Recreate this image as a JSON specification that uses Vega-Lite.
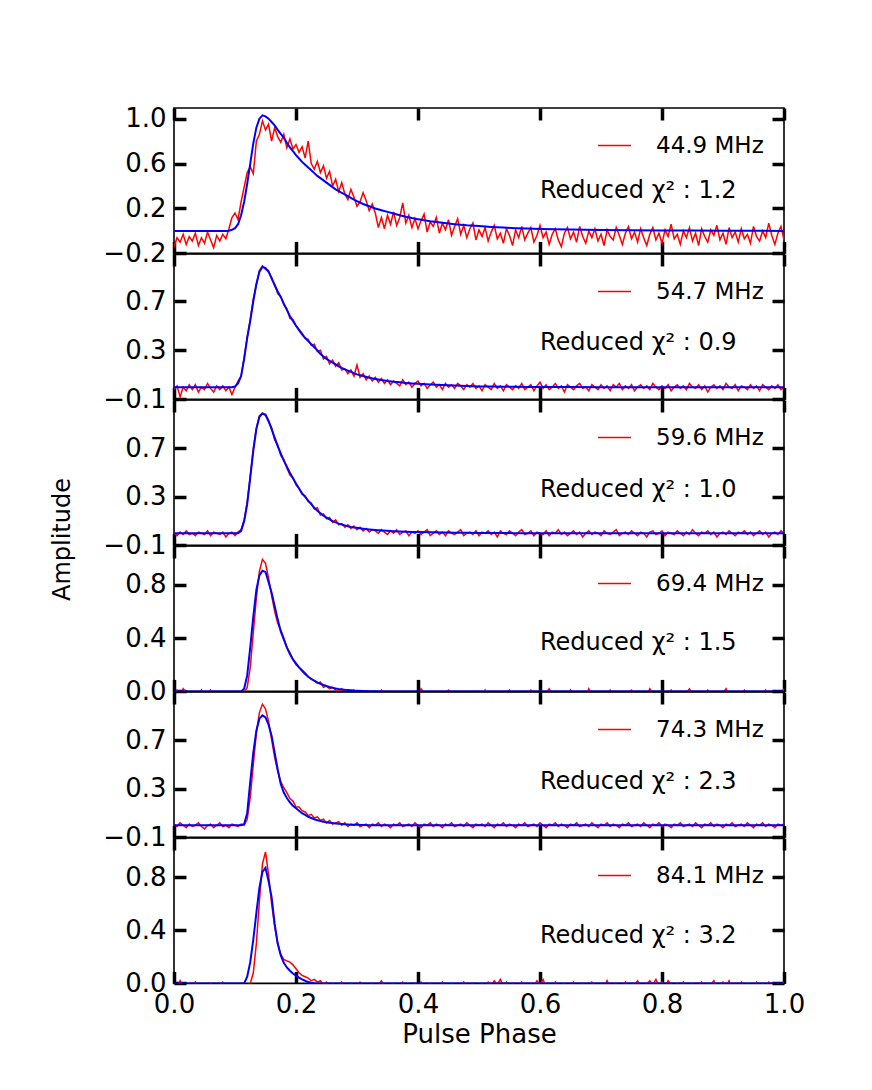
{
  "$schema": "https://vega.github.io/schema/vega-lite/v6.json",
  "padding": {"left": 49, "top": 104, "right": 10, "bottom": 10},
  "bounds": "flush",
  "spacing": 0,
  "config": {
    "font": "DejaVu Sans",
    "view": {"stroke": "#000000", "strokeWidth": 1.6},
    "axis": {"grid": false, "domain": false, "tickSize": -12, "tickWidth": 3.5, "tickColor": "#000000", "labelFontSize": 26, "labelColor": "#000000", "labelPadding": 20, "labelFlush": false, "labelOverlap": false, "labelBound": false, "titleFontSize": 26, "titleFontWeight": "normal", "titleColor": "#000000", "zindex": 1},
    "legend": {"orient": "top-right", "offset": 20, "padding": 0, "symbolType": "stroke", "symbolSize": 1089, "symbolStrokeWidth": 1.5, "labelFontSize": 23, "labelColor": "#000000", "labelOffset": 24},
    "text": {"fontSize": 24, "color": "#000000"}
  },
  "datasets": {
    "red": [
      {"x":0,"a":-0.14,"b":-0.02,"c":0,"d":-0.02,"e":0.01,"f":-0.01},
      {"x":0.005,"a":-0.06,"b":0.01,"c":-0.02,"d":0.01,"e":-0.01,"f":-0.03},
      {"x":0.01,"a":-0.1,"b":-0.08,"c":0.01,"d":-0.03,"e":0.02,"f":0.02},
      {"x":0.015,"a":-0.03,"b":0,"c":-0.01,"d":0.02,"e":0,"f":-0.02},
      {"x":0.02,"a":-0.12,"b":-0.03,"c":0.02,"d":-0.01,"e":-0.02,"f":-0.04},
      {"x":0.025,"a":-0.05,"b":0.02,"c":-0.01,"d":-0.04,"e":0.01,"f":0},
      {"x":0.03,"a":-0.09,"b":-0.02,"c":0,"d":0,"e":-0.01,"f":-0.02},
      {"x":0.035,"a":-0.02,"b":0.02,"c":-0.02,"d":-0.02,"e":0,"f":0.01},
      {"x":0.04,"a":-0.13,"b":-0.04,"c":0.01,"d":-0.05,"e":0.02,"f":-0.03},
      {"x":0.045,"a":-0.06,"b":0,"c":0,"d":0.01,"e":-0.01,"f":-0.05},
      {"x":0.05,"a":-0.11,"b":-0.02,"c":-0.01,"d":-0.03,"e":-0.03,"f":-0.01},
      {"x":0.055,"a":-0.01,"b":0.03,"c":0.02,"d":-0.01,"e":0,"f":-0.03},
      {"x":0.06,"a":-0.08,"b":-0.01,"c":-0.02,"d":0.01,"e":0.01,"f":0},
      {"x":0.065,"a":-0.15,"b":-0.04,"c":0.01,"d":-0.04,"e":-0.02,"f":-0.02},
      {"x":0.07,"a":-0.04,"b":0.01,"c":0,"d":-0.02,"e":0,"f":-0.04},
      {"x":0.075,"a":-0.09,"b":-0.02,"c":-0.01,"d":0,"e":0.02,"f":-0.01},
      {"x":0.08,"a":-0.03,"b":0.01,"c":0.01,"d":-0.03,"e":-0.01,"f":0.01},
      {"x":0.085,"a":-0.07,"b":-0.03,"c":-0.03,"d":-0.05,"e":0,"f":-0.03},
      {"x":0.09,"a":0.02,"b":0,"c":0,"d":-0.01,"e":-0.02,"f":-0.02},
      {"x":0.095,"a":0.12,"b":-0.06,"c":0.01,"d":-0.03,"e":0.01,"f":-0.04},
      {"x":0.1,"a":0.16,"b":0,"c":-0.02,"d":-0.02,"e":0,"f":-0.01},
      {"x":0.105,"a":0.1,"b":0.05,"c":0.01,"d":-0.04,"e":-0.01,"f":-0.03},
      {"x":0.11,"a":0.26,"b":0.09,"c":0.03,"d":-0.02,"e":0.01,"f":-0.02},
      {"x":0.115,"a":0.39,"b":0.24,"c":0.11,"d":-0.01,"e":0,"f":-0.04},
      {"x":0.12,"a":0.52,"b":0.41,"c":0.26,"d":0.03,"e":0.05,"f":-0.01},
      {"x":0.125,"a":0.57,"b":0.55,"c":0.47,"d":0.18,"e":0.23,"f":0},
      {"x":0.13,"a":0.51,"b":0.72,"c":0.7,"d":0.44,"e":0.5,"f":0.08},
      {"x":0.135,"a":0.8,"b":0.83,"c":0.87,"d":0.7,"e":0.76,"f":0.3},
      {"x":0.14,"a":0.86,"b":0.95,"c":0.97,"d":0.9,"e":0.93,"f":0.62},
      {"x":0.145,"a":0.98,"b":0.99,"c":0.99,"d":0.99,"e":1,"f":0.9},
      {"x":0.15,"a":0.9,"b":0.96,"c":0.97,"d":0.96,"e":0.96,"f":0.99},
      {"x":0.155,"a":0.95,"b":0.95,"c":0.92,"d":0.85,"e":0.86,"f":0.82},
      {"x":0.16,"a":0.8,"b":0.88,"c":0.87,"d":0.72,"e":0.71,"f":0.6},
      {"x":0.165,"a":0.92,"b":0.84,"c":0.77,"d":0.6,"e":0.56,"f":0.43},
      {"x":0.17,"a":0.84,"b":0.76,"c":0.73,"d":0.51,"e":0.45,"f":0.3},
      {"x":0.175,"a":0.79,"b":0.74,"c":0.64,"d":0.46,"e":0.36,"f":0.22},
      {"x":0.18,"a":0.86,"b":0.67,"c":0.61,"d":0.4,"e":0.31,"f":0.18},
      {"x":0.185,"a":0.74,"b":0.64,"c":0.54,"d":0.33,"e":0.27,"f":0.17},
      {"x":0.19,"a":0.82,"b":0.56,"c":0.48,"d":0.29,"e":0.22,"f":0.16},
      {"x":0.195,"a":0.73,"b":0.55,"c":0.46,"d":0.24,"e":0.2,"f":0.14},
      {"x":0.2,"a":0.77,"b":0.5,"c":0.4,"d":0.2,"e":0.15,"f":0.11},
      {"x":0.205,"a":0.7,"b":0.47,"c":0.37,"d":0.18,"e":0.15,"f":0.08},
      {"x":0.21,"a":0.75,"b":0.44,"c":0.32,"d":0.16,"e":0.12,"f":0.06},
      {"x":0.215,"a":0.65,"b":0.4,"c":0.31,"d":0.14,"e":0.11,"f":0.05},
      {"x":0.22,"a":0.8,"b":0.39,"c":0.26,"d":0.11,"e":0.08,"f":0.04},
      {"x":0.225,"a":0.6,"b":0.34,"c":0.25,"d":0.09,"e":0.09,"f":0.02},
      {"x":0.23,"a":0.55,"b":0.35,"c":0.2,"d":0.08,"e":0.06,"f":0.03},
      {"x":0.235,"a":0.62,"b":0.29,"c":0.21,"d":0.06,"e":0.07,"f":0.01},
      {"x":0.24,"a":0.52,"b":0.3,"c":0.15,"d":0.07,"e":0.04,"f":0.02},
      {"x":0.245,"a":0.58,"b":0.23,"c":0.16,"d":0.03,"e":0.05,"f":-0.01},
      {"x":0.25,"a":0.47,"b":0.25,"c":0.12,"d":0.04,"e":0.02,"f":0.01},
      {"x":0.255,"a":0.53,"b":0.19,"c":0.13,"d":0.02,"e":0.04,"f":-0.02},
      {"x":0.26,"a":0.4,"b":0.22,"c":0.09,"d":0.03,"e":0.01,"f":0},
      {"x":0.265,"a":0.46,"b":0.17,"c":0.11,"d":0.01,"e":0.02,"f":-0.03},
      {"x":0.27,"a":0.35,"b":0.2,"c":0.07,"d":0,"e":0.03,"f":-0.01},
      {"x":0.275,"a":0.43,"b":0.14,"c":0.08,"d":0.02,"e":0,"f":0.01},
      {"x":0.28,"a":0.33,"b":0.15,"c":0.05,"d":-0.01,"e":0.02,"f":-0.02},
      {"x":0.285,"a":0.28,"b":0.11,"c":0.07,"d":0,"e":-0.01,"f":-0.04},
      {"x":0.29,"a":0.37,"b":0.14,"c":0.04,"d":-0.02,"e":0.01,"f":0},
      {"x":0.295,"a":0.3,"b":0.09,"c":0.06,"d":0.01,"e":0,"f":-0.02},
      {"x":0.3,"a":0.22,"b":0.18,"c":0.03,"d":-0.03,"e":0.02,"f":-0.03},
      {"x":0.305,"a":0.26,"b":0.08,"c":0.05,"d":-0.01,"e":-0.01,"f":0.01},
      {"x":0.31,"a":0.34,"b":0.11,"c":0.02,"d":-0.04,"e":0,"f":-0.01},
      {"x":0.315,"a":0.27,"b":0.06,"c":0.04,"d":0,"e":0.01,"f":-0.04},
      {"x":0.32,"a":0.18,"b":0.09,"c":0.01,"d":-0.02,"e":-0.02,"f":-0.02},
      {"x":0.325,"a":0.24,"b":0.05,"c":0.03,"d":-0.05,"e":0.01,"f":0},
      {"x":0.33,"a":0.16,"b":0.08,"c":0.02,"d":-0.01,"e":0,"f":-0.03},
      {"x":0.335,"a":0.03,"b":0.04,"c":0,"d":-0.03,"e":0.02,"f":-0.01},
      {"x":0.34,"a":0.12,"b":0.07,"c":0.03,"d":0.01,"e":-0.01,"f":0.02},
      {"x":0.345,"a":0.02,"b":0.03,"c":0.01,"d":-0.02,"e":0.01,"f":-0.02},
      {"x":0.35,"a":0.14,"b":0.06,"c":-0.01,"d":-0.04,"e":0,"f":-0.05},
      {"x":0.355,"a":0.06,"b":0.02,"c":0.02,"d":-0.01,"e":-0.02,"f":-0.01},
      {"x":0.36,"a":0.17,"b":0.05,"c":0,"d":-0.03,"e":0.01,"f":0},
      {"x":0.365,"a":0.05,"b":0.03,"c":0.03,"d":0,"e":0,"f":-0.03},
      {"x":0.37,"a":0.12,"b":0.01,"c":-0.01,"d":-0.02,"e":0.02,"f":-0.02},
      {"x":0.375,"a":0.25,"b":0.06,"c":0.01,"d":-0.05,"e":-0.01,"f":0.01},
      {"x":0.38,"a":0.07,"b":0.02,"c":0.02,"d":-0.01,"e":0,"f":-0.04},
      {"x":0.385,"a":0.14,"b":0.04,"c":-0.02,"d":-0.03,"e":0.01,"f":-0.01},
      {"x":0.39,"a":0.03,"b":0,"c":0.01,"d":-0.02,"e":-0.01,"f":-0.03},
      {"x":0.395,"a":0.11,"b":0.03,"c":0,"d":0,"e":0.02,"f":0},
      {"x":0.4,"a":0.02,"b":0.05,"c":0.02,"d":-0.04,"e":0,"f":-0.02},
      {"x":0.405,"a":0.09,"b":0.01,"c":-0.01,"d":0.02,"e":-0.02,"f":0.01},
      {"x":0.41,"a":0.15,"b":0.03,"c":0.01,"d":-0.01,"e":0.01,"f":-0.04},
      {"x":0.415,"a":-0.01,"b":-0.01,"c":0.03,"d":-0.03,"e":0,"f":-0.02},
      {"x":0.42,"a":0.08,"b":0.02,"c":-0.02,"d":-0.02,"e":0.02,"f":0},
      {"x":0.425,"a":0.04,"b":0.04,"c":0,"d":-0.05,"e":-0.01,"f":-0.03},
      {"x":0.43,"a":0.12,"b":0,"c":0.02,"d":0,"e":0.01,"f":-0.01},
      {"x":0.435,"a":-0.02,"b":0.02,"c":-0.01,"d":-0.02,"e":0,"f":-0.05},
      {"x":0.44,"a":0.07,"b":-0.02,"c":0.01,"d":-0.04,"e":-0.02,"f":0.01},
      {"x":0.445,"a":0.01,"b":0.03,"c":-0.02,"d":-0.01,"e":0.01,"f":-0.02},
      {"x":0.45,"a":0.1,"b":0,"c":0.02,"d":0.01,"e":0,"f":-0.03},
      {"x":0.455,"a":-0.04,"b":0.02,"c":0,"d":-0.03,"e":0.02,"f":0},
      {"x":0.46,"a":0.04,"b":-0.01,"c":-0.01,"d":-0.02,"e":-0.01,"f":-0.01},
      {"x":0.465,"a":0.11,"b":0.03,"c":0.01,"d":-0.05,"e":0,"f":-0.04},
      {"x":0.47,"a":-0.03,"b":0.01,"c":0.03,"d":-0.01,"e":0.01,"f":-0.02},
      {"x":0.475,"a":0.05,"b":-0.02,"c":-0.02,"d":-0.03,"e":-0.01,"f":0.01},
      {"x":0.48,"a":-0.06,"b":0.02,"c":0,"d":0,"e":0.02,"f":-0.03},
      {"x":0.485,"a":0.02,"b":0,"c":0.01,"d":-0.02,"e":0,"f":-0.01},
      {"x":0.49,"a":0.07,"b":0.03,"c":-0.01,"d":-0.04,"e":-0.02,"f":0},
      {"x":0.495,"a":-0.08,"b":-0.01,"c":0.02,"d":-0.01,"e":0.01,"f":-0.04},
      {"x":0.5,"a":0.01,"b":0.01,"c":-0.02,"d":-0.03,"e":0,"f":-0.02},
      {"x":0.505,"a":-0.05,"b":-0.03,"c":0.01,"d":-0.02,"e":0.01,"f":0},
      {"x":0.51,"a":0.03,"b":0.02,"c":0,"d":0.01,"e":-0.01,"f":-0.03},
      {"x":0.515,"a":-0.09,"b":0,"c":0.02,"d":-0.04,"e":0.02,"f":0.01},
      {"x":0.52,"a":-0.01,"b":-0.02,"c":-0.01,"d":-0.02,"e":0,"f":-0.02},
      {"x":0.525,"a":0.05,"b":0.03,"c":0.01,"d":-0.01,"e":-0.02,"f":0.02},
      {"x":0.53,"a":-0.07,"b":-0.01,"c":-0.03,"d":-0.03,"e":0.01,"f":-0.01},
      {"x":0.535,"a":-0.02,"b":0.01,"c":0.02,"d":0,"e":0,"f":0.03},
      {"x":0.54,"a":-0.11,"b":-0.03,"c":0,"d":-0.05,"e":0.02,"f":-0.02},
      {"x":0.545,"a":0.02,"b":0.02,"c":-0.01,"d":-0.02,"e":-0.01,"f":0.01},
      {"x":0.55,"a":-0.04,"b":0,"c":0.02,"d":0.01,"e":0.01,"f":-0.04},
      {"x":0.555,"a":-0.13,"b":-0.02,"c":0,"d":-0.03,"e":0,"f":0},
      {"x":0.56,"a":0.01,"b":0.01,"c":-0.02,"d":-0.01,"e":-0.02,"f":-0.02},
      {"x":0.565,"a":-0.06,"b":-0.01,"c":0.01,"d":-0.04,"e":0.01,"f":-0.03},
      {"x":0.57,"a":0.04,"b":0.03,"c":0.03,"d":0,"e":0,"f":0.01},
      {"x":0.575,"a":-0.08,"b":-0.02,"c":-0.01,"d":-0.02,"e":0.02,"f":-0.01},
      {"x":0.58,"a":-0.02,"b":0,"c":0,"d":-0.03,"e":-0.01,"f":-0.04},
      {"x":0.585,"a":0.03,"b":0.02,"c":0.02,"d":0.01,"e":0,"f":0},
      {"x":0.59,"a":-0.1,"b":-0.03,"c":-0.02,"d":-0.02,"e":0.01,"f":-0.02},
      {"x":0.595,"a":-0.04,"b":0.01,"c":0.01,"d":-0.04,"e":-0.01,"f":0.02},
      {"x":0.6,"a":0.05,"b":0.04,"c":0,"d":0,"e":0.02,"f":-0.01},
      {"x":0.605,"a":-0.06,"b":-0.01,"c":-0.01,"d":-0.03,"e":0,"f":0.03},
      {"x":0.61,"a":-0.01,"b":0.02,"c":0.02,"d":-0.01,"e":-0.02,"f":-0.03},
      {"x":0.615,"a":-0.12,"b":-0.02,"c":-0.02,"d":0.02,"e":0.01,"f":0},
      {"x":0.62,"a":-0.03,"b":0,"c":0.01,"d":-0.02,"e":0,"f":-0.02},
      {"x":0.625,"a":0.02,"b":0.03,"c":0,"d":-0.04,"e":0.02,"f":0.01},
      {"x":0.63,"a":-0.08,"b":-0.01,"c":0.03,"d":-0.01,"e":-0.01,"f":-0.04},
      {"x":0.635,"a":-0.14,"b":0.01,"c":-0.01,"d":0,"e":0.01,"f":-0.01},
      {"x":0.64,"a":-0.02,"b":-0.04,"c":0.01,"d":-0.03,"e":0,"f":0},
      {"x":0.645,"a":0.03,"b":0.02,"c":-0.02,"d":-0.05,"e":-0.02,"f":-0.03},
      {"x":0.65,"a":-0.07,"b":0,"c":0,"d":0.01,"e":0.01,"f":-0.02},
      {"x":0.655,"a":-0.01,"b":-0.02,"c":0.02,"d":-0.02,"e":0,"f":0.01},
      {"x":0.66,"a":-0.1,"b":0.01,"c":-0.01,"d":-0.03,"e":0.02,"f":-0.04},
      {"x":0.665,"a":0.04,"b":0.03,"c":0.01,"d":0,"e":-0.01,"f":-0.01},
      {"x":0.67,"a":-0.05,"b":-0.01,"c":-0.03,"d":-0.01,"e":0,"f":0},
      {"x":0.675,"a":-0.11,"b":0,"c":0,"d":-0.04,"e":0.01,"f":-0.02},
      {"x":0.68,"a":0,"b":-0.03,"c":0.02,"d":0.02,"e":-0.01,"f":-0.03},
      {"x":0.685,"a":-0.06,"b":0.02,"c":-0.01,"d":-0.02,"e":0.02,"f":0.01},
      {"x":0.69,"a":0.02,"b":0,"c":0.01,"d":-0.03,"e":0,"f":-0.01},
      {"x":0.695,"a":-0.09,"b":-0.02,"c":0,"d":-0.01,"e":-0.02,"f":-0.04},
      {"x":0.7,"a":-0.03,"b":0.02,"c":-0.02,"d":0,"e":0.01,"f":0},
      {"x":0.705,"a":-0.13,"b":-0.01,"c":0.02,"d":-0.04,"e":0,"f":-0.02},
      {"x":0.71,"a":0.01,"b":0.01,"c":0,"d":-0.02,"e":0.02,"f":0.02},
      {"x":0.715,"a":-0.05,"b":-0.03,"c":-0.01,"d":0.01,"e":-0.01,"f":-0.03},
      {"x":0.72,"a":-0.08,"b":0.02,"c":0.01,"d":-0.03,"e":0.01,"f":-0.01},
      {"x":0.725,"a":0.03,"b":0,"c":0.03,"d":-0.01,"e":0,"f":0},
      {"x":0.73,"a":-0.04,"b":0.03,"c":-0.02,"d":-0.05,"e":-0.02,"f":-0.04},
      {"x":0.735,"a":-0.12,"b":-0.02,"c":0,"d":0,"e":0.01,"f":-0.02},
      {"x":0.74,"a":-0.02,"b":0.01,"c":0.01,"d":-0.02,"e":0,"f":0.01},
      {"x":0.745,"a":0.04,"b":-0.01,"c":-0.01,"d":-0.03,"e":0.02,"f":-0.03},
      {"x":0.75,"a":-0.07,"b":0.02,"c":0.02,"d":0.01,"e":-0.01,"f":0},
      {"x":0.755,"a":-0.01,"b":-0.03,"c":0,"d":-0.01,"e":0,"f":-0.01},
      {"x":0.76,"a":-0.1,"b":0,"c":-0.02,"d":-0.04,"e":0.01,"f":0.02},
      {"x":0.765,"a":0.02,"b":0.02,"c":0.01,"d":-0.02,"e":-0.01,"f":-0.02},
      {"x":0.77,"a":-0.06,"b":-0.01,"c":0,"d":0,"e":0.02,"f":-0.04},
      {"x":0.775,"a":-0.13,"b":0.01,"c":-0.03,"d":-0.03,"e":0,"f":0},
      {"x":0.78,"a":-0.03,"b":-0.02,"c":0.01,"d":0.02,"e":-0.02,"f":0.02},
      {"x":0.785,"a":0.03,"b":0.03,"c":0.02,"d":-0.01,"e":0.01,"f":-0.01},
      {"x":0.79,"a":-0.08,"b":0,"c":-0.01,"d":-0.04,"e":0,"f":0.03},
      {"x":0.795,"a":-0.02,"b":-0.02,"c":0,"d":-0.02,"e":0.02,"f":-0.02},
      {"x":0.8,"a":-0.11,"b":0.01,"c":0.02,"d":0,"e":-0.01,"f":0.01},
      {"x":0.805,"a":0.01,"b":-0.01,"c":-0.02,"d":-0.03,"e":0.01,"f":-0.03},
      {"x":0.81,"a":-0.05,"b":0.02,"c":0.01,"d":-0.01,"e":0,"f":0.02},
      {"x":0.815,"a":0.06,"b":-0.03,"c":0,"d":0.01,"e":-0.02,"f":-0.01},
      {"x":0.82,"a":-0.07,"b":0,"c":-0.01,"d":-0.05,"e":0.01,"f":-0.04},
      {"x":0.825,"a":-0.03,"b":0.02,"c":0.02,"d":-0.02,"e":0,"f":0},
      {"x":0.83,"a":-0.12,"b":-0.01,"c":0,"d":0,"e":0.02,"f":-0.02},
      {"x":0.835,"a":0,"b":0.01,"c":-0.02,"d":-0.03,"e":-0.01,"f":0.01},
      {"x":0.84,"a":-0.06,"b":-0.02,"c":0.01,"d":-0.01,"e":0,"f":-0.03},
      {"x":0.845,"a":0.03,"b":0.03,"c":-0.01,"d":0.02,"e":0.01,"f":-0.01},
      {"x":0.85,"a":-0.09,"b":0,"c":0.03,"d":-0.02,"e":-0.01,"f":0},
      {"x":0.855,"a":-0.02,"b":-0.01,"c":0,"d":-0.04,"e":0.02,"f":-0.04},
      {"x":0.86,"a":-0.13,"b":0.02,"c":-0.02,"d":0,"e":0,"f":-0.02},
      {"x":0.865,"a":0.02,"b":-0.02,"c":0.01,"d":-0.01,"e":-0.02,"f":0.01},
      {"x":0.87,"a":-0.05,"b":0.01,"c":0,"d":-0.03,"e":0.01,"f":-0.03},
      {"x":0.875,"a":-0.1,"b":-0.04,"c":0.02,"d":0.01,"e":0,"f":0},
      {"x":0.88,"a":0.01,"b":0,"c":-0.01,"d":-0.02,"e":0.02,"f":-0.01},
      {"x":0.885,"a":-0.04,"b":0.02,"c":0.01,"d":-0.04,"e":-0.01,"f":0.02},
      {"x":0.89,"a":0.05,"b":-0.01,"c":-0.03,"d":0,"e":0.01,"f":-0.03},
      {"x":0.895,"a":-0.08,"b":0.01,"c":0,"d":-0.02,"e":0,"f":-0.01},
      {"x":0.9,"a":-0.02,"b":-0.02,"c":0.01,"d":-0.01,"e":-0.02,"f":0.01},
      {"x":0.905,"a":-0.12,"b":0.03,"c":-0.01,"d":0.02,"e":0.01,"f":-0.02},
      {"x":0.91,"a":0.03,"b":0,"c":0.02,"d":-0.03,"e":0,"f":0.02},
      {"x":0.915,"a":-0.06,"b":-0.01,"c":0,"d":-0.01,"e":0.02,"f":-0.04},
      {"x":0.92,"a":-0.01,"b":0.02,"c":-0.02,"d":-0.04,"e":-0.01,"f":0},
      {"x":0.925,"a":-0.1,"b":-0.03,"c":0.01,"d":0,"e":0,"f":-0.02},
      {"x":0.93,"a":0.02,"b":0.01,"c":0,"d":-0.02,"e":0.01,"f":0.01},
      {"x":0.935,"a":-0.07,"b":0,"c":0.02,"d":0.01,"e":-0.01,"f":-0.03},
      {"x":0.94,"a":-0.03,"b":-0.02,"c":-0.01,"d":-0.03,"e":0.02,"f":0},
      {"x":0.945,"a":-0.11,"b":0.02,"c":0.01,"d":-0.05,"e":0,"f":-0.01},
      {"x":0.95,"a":0.04,"b":-0.01,"c":-0.02,"d":-0.01,"e":-0.02,"f":-0.04},
      {"x":0.955,"a":-0.05,"b":0.01,"c":0,"d":0,"e":0.01,"f":0.01},
      {"x":0.96,"a":-0.09,"b":-0.03,"c":0.02,"d":-0.02,"e":0,"f":-0.02},
      {"x":0.965,"a":0,"b":0.02,"c":-0.01,"d":-0.04,"e":0.02,"f":0},
      {"x":0.97,"a":-0.06,"b":0,"c":0.01,"d":0.01,"e":-0.01,"f":-0.03},
      {"x":0.975,"a":0.07,"b":-0.02,"c":-0.03,"d":-0.02,"e":0.01,"f":0.01},
      {"x":0.98,"a":-0.04,"b":0.01,"c":0,"d":-0.01,"e":0,"f":-0.01},
      {"x":0.985,"a":-0.12,"b":-0.01,"c":0.01,"d":-0.03,"e":-0.02,"f":-0.03},
      {"x":0.99,"a":-0.02,"b":0.02,"c":-0.01,"d":0,"e":0.01,"f":0},
      {"x":0.995,"a":0.04,"b":-0.02,"c":0.02,"d":-0.02,"e":0,"f":-0.02},
      {"x":1,"a":-0.08,"b":0,"c":0,"d":0.02,"e":0.01,"f":0.01}
    ],
    "blue": [
      {"x":0,"a":0,"b":0,"c":0,"d":0,"e":0,"f":0},
      {"x":0.05,"a":0,"b":0,"c":0,"d":0,"e":0,"f":0},
      {"x":0.08,"a":0,"b":0,"c":0,"d":0,"e":0,"f":0},
      {"x":0.085,"a":0,"b":0,"c":0,"d":0,"e":0,"f":0},
      {"x":0.09,"a":0.002,"b":0,"c":0,"d":0,"e":0,"f":0},
      {"x":0.095,"a":0.01,"b":0,"c":0,"d":0,"e":0,"f":0},
      {"x":0.1,"a":0.025,"b":0.005,"c":0,"d":0,"e":0,"f":0},
      {"x":0.105,"a":0.06,"b":0.03,"c":0,"d":0,"e":0,"f":0},
      {"x":0.11,"a":0.14,"b":0.09,"c":0.02,"d":0,"e":0,"f":0},
      {"x":0.115,"a":0.26,"b":0.23,"c":0.1,"d":0.02,"e":0.01,"f":0},
      {"x":0.12,"a":0.42,"b":0.4,"c":0.24,"d":0.12,"e":0.1,"f":0.05},
      {"x":0.125,"a":0.6,"b":0.54,"c":0.46,"d":0.33,"e":0.36,"f":0.16},
      {"x":0.13,"a":0.78,"b":0.7,"c":0.68,"d":0.56,"e":0.6,"f":0.33},
      {"x":0.135,"a":0.92,"b":0.84,"c":0.86,"d":0.76,"e":0.78,"f":0.53},
      {"x":0.14,"a":1,"b":0.94,"c":0.96,"d":0.87,"e":0.88,"f":0.72},
      {"x":0.145,"a":1.03,"b":0.98,"c":0.99,"d":0.905,"e":0.907,"f":0.84},
      {"x":0.15,"a":1.02,"b":0.97,"c":0.98,"d":0.895,"e":0.89,"f":0.87},
      {"x":0.155,"a":1,"b":0.94,"c":0.93,"d":0.82,"e":0.83,"f":0.77},
      {"x":0.16,"a":0.97,"b":0.89,"c":0.86,"d":0.74,"e":0.74,"f":0.65},
      {"x":0.165,"a":0.94,"b":0.83,"c":0.79,"d":0.64,"e":0.6,"f":0.45},
      {"x":0.17,"a":0.9,"b":0.78,"c":0.72,"d":0.54,"e":0.46,"f":0.3},
      {"x":0.175,"a":0.865,"b":0.735,"c":0.66,"d":0.45,"e":0.34,"f":0.21},
      {"x":0.18,"a":0.83,"b":0.68,"c":0.6,"d":0.39,"e":0.27,"f":0.156},
      {"x":0.185,"a":0.785,"b":0.63,"c":0.55,"d":0.33,"e":0.225,"f":0.12},
      {"x":0.19,"a":0.745,"b":0.58,"c":0.5,"d":0.28,"e":0.19,"f":0.095},
      {"x":0.195,"a":0.71,"b":0.54,"c":0.455,"d":0.24,"e":0.16,"f":0.075},
      {"x":0.2,"a":0.675,"b":0.5,"c":0.41,"d":0.21,"e":0.14,"f":0.058},
      {"x":0.205,"a":0.645,"b":0.465,"c":0.37,"d":0.18,"e":0.12,"f":0.043},
      {"x":0.21,"a":0.615,"b":0.43,"c":0.33,"d":0.155,"e":0.1,"f":0.03},
      {"x":0.215,"a":0.59,"b":0.4,"c":0.3,"d":0.13,"e":0.085,"f":0.02},
      {"x":0.22,"a":0.565,"b":0.375,"c":0.27,"d":0.11,"e":0.07,"f":0.01},
      {"x":0.225,"a":0.54,"b":0.35,"c":0.24,"d":0.095,"e":0.06,"f":0.005},
      {"x":0.23,"a":0.515,"b":0.325,"c":0.21,"d":0.08,"e":0.05,"f":0.002},
      {"x":0.235,"a":0.49,"b":0.3,"c":0.185,"d":0.068,"e":0.042,"f":0},
      {"x":0.24,"a":0.47,"b":0.27,"c":0.165,"d":0.057,"e":0.035,"f":0},
      {"x":0.245,"a":0.45,"b":0.25,"c":0.145,"d":0.048,"e":0.03,"f":0},
      {"x":0.25,"a":0.43,"b":0.23,"c":0.13,"d":0.04,"e":0.025,"f":0},
      {"x":0.255,"a":0.41,"b":0.215,"c":0.115,"d":0.033,"e":0.021,"f":0},
      {"x":0.26,"a":0.39,"b":0.2,"c":0.1,"d":0.027,"e":0.018,"f":0},
      {"x":0.265,"a":0.37,"b":0.185,"c":0.09,"d":0.022,"e":0.015,"f":0},
      {"x":0.27,"a":0.355,"b":0.17,"c":0.08,"d":0.018,"e":0.012,"f":0},
      {"x":0.275,"a":0.34,"b":0.157,"c":0.072,"d":0.015,"e":0.01,"f":0},
      {"x":0.28,"a":0.325,"b":0.145,"c":0.065,"d":0.012,"e":0.008,"f":0},
      {"x":0.285,"a":0.31,"b":0.135,"c":0.058,"d":0.01,"e":0.007,"f":0},
      {"x":0.29,"a":0.295,"b":0.125,"c":0.052,"d":0.008,"e":0.005,"f":0},
      {"x":0.295,"a":0.28,"b":0.114,"c":0.048,"d":0.006,"e":0.004,"f":0},
      {"x":0.3,"a":0.265,"b":0.104,"c":0.045,"d":0.005,"e":0.004,"f":0},
      {"x":0.31,"a":0.24,"b":0.09,"c":0.038,"d":0.003,"e":0.002,"f":0},
      {"x":0.32,"a":0.22,"b":0.077,"c":0.032,"d":0.002,"e":0.001,"f":0},
      {"x":0.33,"a":0.2,"b":0.067,"c":0.027,"d":0.001,"e":0,"f":0},
      {"x":0.34,"a":0.185,"b":0.058,"c":0.023,"d":0,"e":0,"f":0},
      {"x":0.35,"a":0.17,"b":0.05,"c":0.02,"d":0,"e":0,"f":0},
      {"x":0.36,"a":0.155,"b":0.044,"c":0.017,"d":0,"e":0,"f":0},
      {"x":0.37,"a":0.14,"b":0.039,"c":0.015,"d":0,"e":0,"f":0},
      {"x":0.38,"a":0.127,"b":0.034,"c":0.013,"d":0,"e":0,"f":0},
      {"x":0.39,"a":0.115,"b":0.03,"c":0.011,"d":0,"e":0,"f":0},
      {"x":0.4,"a":0.105,"b":0.027,"c":0.01,"d":0,"e":0,"f":0},
      {"x":0.42,"a":0.087,"b":0.022,"c":0.008,"d":0,"e":0,"f":0},
      {"x":0.44,"a":0.072,"b":0.018,"c":0.006,"d":0,"e":0,"f":0},
      {"x":0.46,"a":0.06,"b":0.014,"c":0.005,"d":0,"e":0,"f":0},
      {"x":0.48,"a":0.05,"b":0.01,"c":0.004,"d":0,"e":0,"f":0},
      {"x":0.5,"a":0.043,"b":0.006,"c":0.003,"d":0,"e":0,"f":0},
      {"x":0.52,"a":0.036,"b":0.005,"c":0.002,"d":0,"e":0,"f":0},
      {"x":0.54,"a":0.03,"b":0.004,"c":0.002,"d":0,"e":0,"f":0},
      {"x":0.56,"a":0.025,"b":0.003,"c":0.001,"d":0,"e":0,"f":0},
      {"x":0.58,"a":0.021,"b":0.002,"c":0.001,"d":0,"e":0,"f":0},
      {"x":0.6,"a":0.018,"b":0.002,"c":0.001,"d":0,"e":0,"f":0},
      {"x":0.65,"a":0.012,"b":0.001,"c":0,"d":0,"e":0,"f":0},
      {"x":0.7,"a":0.008,"b":0,"c":0,"d":0,"e":0,"f":0},
      {"x":0.75,"a":0.006,"b":0,"c":0,"d":0,"e":0,"f":0},
      {"x":0.8,"a":0.004,"b":0,"c":0,"d":0,"e":0,"f":0},
      {"x":0.85,"a":0.003,"b":0,"c":0,"d":0,"e":0,"f":0},
      {"x":0.9,"a":0.002,"b":0,"c":0,"d":0,"e":0,"f":0},
      {"x":0.95,"a":0.001,"b":0,"c":0,"d":0,"e":0,"f":0},
      {"x":1,"a":0,"b":0,"c":0,"d":0,"e":0,"f":0}
    ]
  },
  "vconcat": [
    {
      "width": 610, "height": 145.4,
      "layer": [
        {
          "data": {"name": "red"},
          "mark": {"type": "line", "strokeWidth": 1.5, "clip": true},
          "encoding": {
            "x": {"field": "x", "type": "quantitative", "scale": {"domain": [0, 1], "nice": false}, "axis": {"orient": "bottom", "values": [0, 0.2, 0.4, 0.6, 0.8, 1], "labels": false, "title": null}},
            "y": {"field": "a", "type": "quantitative", "scale": {"domain": [-0.2, 1.095], "nice": false, "zero": false}, "axis": {"orient": "left", "values": [-0.2, 0.2, 0.6, 1.0], "format": ".1f", "title": null}},
            "color": {"datum": "44.9 MHz", "type": "nominal", "scale": {"range": ["#ff0000"]}, "legend": {"title": null}}
          }
        },
        {
          "data": {"name": "blue"},
          "mark": {"type": "line", "color": "#0000ff", "strokeWidth": 2, "clip": true},
          "encoding": {
            "x": {"field": "x", "type": "quantitative", "scale": {"domain": [0, 1], "nice": false}, "axis": {"orient": "top", "values": [0, 0.2, 0.4, 0.6, 0.8, 1], "labels": false, "title": null}},
            "y": {"field": "a", "type": "quantitative", "scale": {"domain": [-0.2, 1.095], "nice": false, "zero": false}, "axis": {"orient": "right", "values": [-0.2, 0.2, 0.6, 1.0], "labels": false, "title": null}}
          }
        },
        {
          "data": {"values": [{"t": "Reduced χ² : 1.2"}]},
          "mark": {"type": "text", "align": "left", "baseline": "middle"},
          "encoding": {
            "x": {"datum": 0.6, "type": "quantitative", "axis": null},
            "y": {"datum": 0.36, "type": "quantitative", "axis": null},
            "text": {"field": "t"}
          }
        }
      ],
      "resolve": {"axis": {"x": "independent", "y": "independent"}}
    },
    {
      "width": 610, "height": 145.4,
      "layer": [
        {
          "data": {"name": "red"},
          "mark": {"type": "line", "strokeWidth": 1.5, "clip": true},
          "encoding": {
            "x": {"field": "x", "type": "quantitative", "scale": {"domain": [0, 1], "nice": false}, "axis": {"orient": "bottom", "values": [0, 0.2, 0.4, 0.6, 0.8, 1], "labels": false, "title": null}},
            "y": {"field": "b", "type": "quantitative", "scale": {"domain": [-0.1, 1.085], "nice": false, "zero": false}, "axis": {"orient": "left", "values": [-0.1, 0.3, 0.7], "format": ".1f", "title": null}},
            "color": {"datum": "54.7 MHz", "type": "nominal", "scale": {"range": ["#ff0000"]}, "legend": {"title": null}}
          }
        },
        {
          "data": {"name": "blue"},
          "mark": {"type": "line", "color": "#0000ff", "strokeWidth": 2, "clip": true},
          "encoding": {
            "x": {"field": "x", "type": "quantitative", "scale": {"domain": [0, 1], "nice": false}, "axis": {"orient": "top", "values": [0, 0.2, 0.4, 0.6, 0.8, 1], "labels": false, "title": null}},
            "y": {"field": "b", "type": "quantitative", "scale": {"domain": [-0.1, 1.085], "nice": false, "zero": false}, "axis": {"orient": "right", "values": [-0.1, 0.3, 0.7], "labels": false, "title": null}}
          }
        },
        {
          "data": {"values": [{"t": "Reduced χ² : 0.9"}]},
          "mark": {"type": "text", "align": "left", "baseline": "middle"},
          "encoding": {
            "x": {"datum": 0.6, "type": "quantitative", "axis": null},
            "y": {"datum": 0.36, "type": "quantitative", "axis": null},
            "text": {"field": "t"}
          }
        }
      ],
      "resolve": {"axis": {"x": "independent", "y": "independent"}}
    },
    {
      "width": 610, "height": 145.4,
      "layer": [
        {
          "data": {"name": "red"},
          "mark": {"type": "line", "strokeWidth": 1.5, "clip": true},
          "encoding": {
            "x": {"field": "x", "type": "quantitative", "scale": {"domain": [0, 1], "nice": false}, "axis": {"orient": "bottom", "values": [0, 0.2, 0.4, 0.6, 0.8, 1], "labels": false, "title": null}},
            "y": {"field": "c", "type": "quantitative", "scale": {"domain": [-0.1, 1.1], "nice": false, "zero": false}, "axis": {"orient": "left", "values": [-0.1, 0.3, 0.7], "format": ".1f", "title": "Amplitude", "titleFontSize": 24, "titleX": -100, "titleY": 139}},
            "color": {"datum": "59.6 MHz", "type": "nominal", "scale": {"range": ["#ff0000"]}, "legend": {"title": null}}
          }
        },
        {
          "data": {"name": "blue"},
          "mark": {"type": "line", "color": "#0000ff", "strokeWidth": 2, "clip": true},
          "encoding": {
            "x": {"field": "x", "type": "quantitative", "scale": {"domain": [0, 1], "nice": false}, "axis": {"orient": "top", "values": [0, 0.2, 0.4, 0.6, 0.8, 1], "labels": false, "title": null}},
            "y": {"field": "c", "type": "quantitative", "scale": {"domain": [-0.1, 1.1], "nice": false, "zero": false}, "axis": {"orient": "right", "values": [-0.1, 0.3, 0.7], "labels": false, "title": null}}
          }
        },
        {
          "data": {"values": [{"t": "Reduced χ² : 1.0"}]},
          "mark": {"type": "text", "align": "left", "baseline": "middle"},
          "encoding": {
            "x": {"datum": 0.6, "type": "quantitative", "axis": null},
            "y": {"datum": 0.36, "type": "quantitative", "axis": null},
            "text": {"field": "t"}
          }
        }
      ],
      "resolve": {"axis": {"x": "independent", "y": "independent"}}
    },
    {
      "width": 610, "height": 145.4,
      "layer": [
        {
          "data": {"name": "red"},
          "mark": {"type": "line", "strokeWidth": 1.5, "clip": true},
          "encoding": {
            "x": {"field": "x", "type": "quantitative", "scale": {"domain": [0, 1], "nice": false}, "axis": {"orient": "bottom", "values": [0, 0.2, 0.4, 0.6, 0.8, 1], "labels": false, "title": null}},
            "y": {"field": "d", "type": "quantitative", "scale": {"domain": [0, 1.09], "nice": false, "zero": false}, "axis": {"orient": "left", "values": [0, 0.4, 0.8], "format": ".1f", "title": null}},
            "color": {"datum": "69.4 MHz", "type": "nominal", "scale": {"range": ["#ff0000"]}, "legend": {"title": null}}
          }
        },
        {
          "data": {"name": "blue"},
          "mark": {"type": "line", "color": "#0000ff", "strokeWidth": 2, "clip": true},
          "encoding": {
            "x": {"field": "x", "type": "quantitative", "scale": {"domain": [0, 1], "nice": false}, "axis": {"orient": "top", "values": [0, 0.2, 0.4, 0.6, 0.8, 1], "labels": false, "title": null}},
            "y": {"field": "d", "type": "quantitative", "scale": {"domain": [0, 1.09], "nice": false, "zero": false}, "axis": {"orient": "right", "values": [0, 0.4, 0.8], "labels": false, "title": null}}
          }
        },
        {
          "data": {"values": [{"t": "Reduced χ² : 1.5"}]},
          "mark": {"type": "text", "align": "left", "baseline": "middle"},
          "encoding": {
            "x": {"datum": 0.6, "type": "quantitative", "axis": null},
            "y": {"datum": 0.36, "type": "quantitative", "axis": null},
            "text": {"field": "t"}
          }
        }
      ],
      "resolve": {"axis": {"x": "independent", "y": "independent"}}
    },
    {
      "width": 610, "height": 145.4,
      "layer": [
        {
          "data": {"name": "red"},
          "mark": {"type": "line", "strokeWidth": 1.5, "clip": true},
          "encoding": {
            "x": {"field": "x", "type": "quantitative", "scale": {"domain": [0, 1], "nice": false}, "axis": {"orient": "bottom", "values": [0, 0.2, 0.4, 0.6, 0.8, 1], "labels": false, "title": null}},
            "y": {"field": "e", "type": "quantitative", "scale": {"domain": [-0.1, 1.1], "nice": false, "zero": false}, "axis": {"orient": "left", "values": [-0.1, 0.3, 0.7], "format": ".1f", "title": null}},
            "color": {"datum": "74.3 MHz", "type": "nominal", "scale": {"range": ["#ff0000"]}, "legend": {"title": null}}
          }
        },
        {
          "data": {"name": "blue"},
          "mark": {"type": "line", "color": "#0000ff", "strokeWidth": 2, "clip": true},
          "encoding": {
            "x": {"field": "x", "type": "quantitative", "scale": {"domain": [0, 1], "nice": false}, "axis": {"orient": "top", "values": [0, 0.2, 0.4, 0.6, 0.8, 1], "labels": false, "title": null}},
            "y": {"field": "e", "type": "quantitative", "scale": {"domain": [-0.1, 1.1], "nice": false, "zero": false}, "axis": {"orient": "right", "values": [-0.1, 0.3, 0.7], "labels": false, "title": null}}
          }
        },
        {
          "data": {"values": [{"t": "Reduced χ² : 2.3"}]},
          "mark": {"type": "text", "align": "left", "baseline": "middle"},
          "encoding": {
            "x": {"datum": 0.6, "type": "quantitative", "axis": null},
            "y": {"datum": 0.36, "type": "quantitative", "axis": null},
            "text": {"field": "t"}
          }
        }
      ],
      "resolve": {"axis": {"x": "independent", "y": "independent"}}
    },
    {
      "width": 610, "height": 145.4,
      "layer": [
        {
          "data": {"name": "red"},
          "mark": {"type": "line", "strokeWidth": 1.5, "clip": true},
          "encoding": {
            "x": {"field": "x", "type": "quantitative", "scale": {"domain": [0, 1], "nice": false}, "axis": {"orient": "bottom", "values": [0, 0.2, 0.4, 0.6, 0.8, 1], "format": ".1f", "title": "Pulse Phase", "titlePadding": 4}},
            "y": {"field": "f", "type": "quantitative", "scale": {"domain": [0, 1.095], "nice": false, "zero": false}, "axis": {"orient": "left", "values": [0, 0.4, 0.8], "format": ".1f", "title": null}},
            "color": {"datum": "84.1 MHz", "type": "nominal", "scale": {"range": ["#ff0000"]}, "legend": {"title": null}}
          }
        },
        {
          "data": {"name": "blue"},
          "mark": {"type": "line", "color": "#0000ff", "strokeWidth": 2, "clip": true},
          "encoding": {
            "x": {"field": "x", "type": "quantitative", "scale": {"domain": [0, 1], "nice": false}, "axis": {"orient": "top", "values": [0, 0.2, 0.4, 0.6, 0.8, 1], "labels": false, "title": null}},
            "y": {"field": "f", "type": "quantitative", "scale": {"domain": [0, 1.095], "nice": false, "zero": false}, "axis": {"orient": "right", "values": [0, 0.4, 0.8], "labels": false, "title": null}}
          }
        },
        {
          "data": {"values": [{"t": "Reduced χ² : 3.2"}]},
          "mark": {"type": "text", "align": "left", "baseline": "middle"},
          "encoding": {
            "x": {"datum": 0.6, "type": "quantitative", "axis": null},
            "y": {"datum": 0.36, "type": "quantitative", "axis": null},
            "text": {"field": "t"}
          }
        }
      ],
      "resolve": {"axis": {"x": "independent", "y": "independent"}}
    }
  ],
  "resolve": {"scale": {"color": "independent"}, "legend": {"color": "independent"}}
}
